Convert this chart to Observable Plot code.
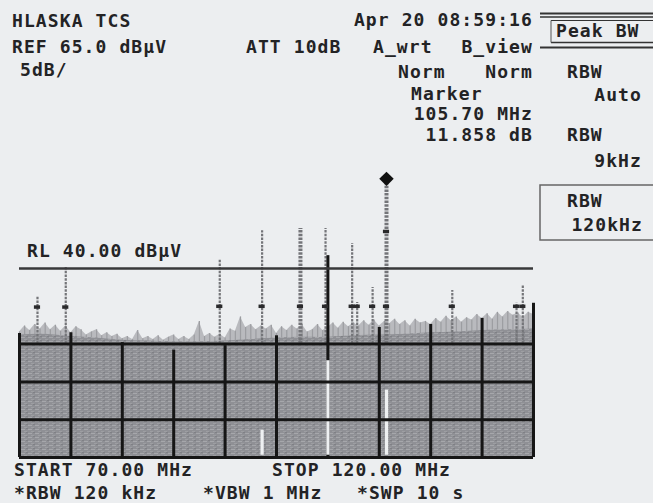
<!DOCTYPE html>
<html>
<head>
<meta charset="utf-8">
<script src="https://cdn.jsdelivr.net/npm/d3@7"></script>
<script src="https://cdn.jsdelivr.net/npm/@observablehq/plot@0.6"></script>
<style>
  html, body { margin: 0; padding: 0; background: #eceef0; }
  #wrap { position: relative; width: 653px; height: 503px; overflow: hidden; background: #eceef0; }
  #wrap svg { position: absolute; left: 0; top: 0; }
</style>
</head>
<body>
<div id="wrap"></div>
<script>
// ---- data (frequency in MHz, level in dBµV) ----
const startMHz = 70, stopMHz = 120;
const refLevel = 65, bottomLevel = 15;
const rlLevel = 40;
// noise "grass" top, sampled every 0.5 MHz from 70 to 120
const grassDb = [
  31.6, 32.4, 31.8, 32.6, 32.0, 32.8, 31.9, 32.5, 31.7, 32.4,
  31.5, 32.3, 31.9, 31.2, 31.6, 31.9, 31.1, 31.5, 31.0, 31.3,
  30.7, 31.0, 30.6, 31.8, 30.7, 31.0, 30.6, 31.1, 30.5, 30.9,
  31.2, 30.6, 31.0, 30.6, 31.2, 33.0, 31.0, 31.4, 30.9, 31.3,
  30.8, 32.0, 31.7, 33.6, 32.2, 32.6, 31.9, 32.4, 32.0, 32.5,
  31.4, 32.3, 31.8, 32.5, 32.0, 32.6, 31.6, 31.9, 32.6, 31.8,
  32.2, 32.8, 32.1, 32.9, 32.3, 32.8, 32.4, 33.1, 32.5, 33.2,
  32.4, 33.0, 32.7, 33.3, 32.6, 33.1, 32.4, 33.3, 32.8, 33.0,
  32.6, 33.4, 32.9, 33.7, 33.1, 33.6, 32.9, 33.5, 33.2, 33.9,
  33.4, 34.0, 33.3, 34.2, 33.6, 34.3, 33.8, 34.1, 33.5, 34.2,
  33.9
];
// dense noise floor, sampled every 2.5 MHz
const floorDb = [31.2, 31.3, 31.0, 30.8, 30.5, 30.4, 30.3, 30.3, 30.4, 30.6,
                 30.8, 30.9, 30.9, 31.1, 31.2, 31.3, 31.5, 31.6, 31.8, 31.9, 32.0];
// trace A spikes
const spikeFreq = [71.75, 74.5, 89.48, 93.6, 97.33, 99.77, 102.36, 102.85, 104.35, 105.7, 112.1, 118.35, 118.96];
const spikeDb   = [36.2, 40.2, 41.1, 45.0, 45.3, 45.3, 43.3, 35.5, 37.5, 51.858, 37.1, 35.4, 37.8];
// trace B peak dashes
const traceBFreq = [71.75, 74.5, 89.48, 93.6, 97.33, 99.77, 102.36, 102.85, 104.35, 105.7, 105.7, 112.1, 118.35, 118.96];
const traceBDb   = [34.9, 34.9, 35.0, 35.0, 35.0, 35.0, 35.0, 35.0, 35.0, 35.0, 44.9, 35.0, 35.0, 35.0];
// graticule columns and their visible tops
const gridFreq  = [70, 75, 80, 85, 90, 95, 100, 105, 110, 115, 120];
const gridTopDb = [31.4, 31.5, 30.2, 29.2, 29.8, 31.1, 41.7, 32.2, 32.6, 33.4, 35.4];
const gridLevels = [15, 20, 25, 30];
// white streaks inside the filled trace
const gapFreq  = [93.6, 100, 105.7];
const gapTopDb = [18.6, 27.8, 23.9];
// marker
const markerFreq = 105.7, markerDb = 51.858;

// ---- tables ----
const grassFreq = d3.range(grassDb.length).map(i => startMHz + i * 0.5);
const grass = grassDb.map((v, i) => ({f: grassFreq[i], v}));
const floor = floorDb.map((v, i) => ({f: startMHz + i * 2.5, v}));
const spikes = spikeFreq.map((f, i) => ({f, v: spikeDb[i]}));
const traceB = traceBFreq.map((f, i) => ({f, v: traceBDb[i]}));
const grid = gridFreq.map((f, i) => ({f, top: gridTopDb[i]}));
const gaps = gapFreq.map((f, i) => ({f, top: gapTopDb[i]}));
const wide = new Set([97.33, 105.7]);

const ink = "#161616";
const chart = Plot.plot({
  width: 653, height: 503,
  marginLeft: 19, marginRight: 120, marginTop: 79, marginBottom: 46,
  x: {domain: [startMHz, stopMHz], axis: null},
  y: {domain: [bottomLevel, refLevel], axis: null},
  style: {background: "transparent", overflow: "visible"},
  marks: [
    Plot.areaY(grass, {x: "f", y1: bottomLevel, y2: "v", fill: "#b9babe"}),
    Plot.ruleX(grass, {x: "f", y1: 29.5, y2: "v", stroke: "#9c9da1", strokeWidth: 1.2}),
    Plot.areaY(floor, {x: "f", y1: bottomLevel, y2: "v", fill: "url(#scanfill)", curve: "natural"}),
    Plot.ruleX(spikes, {x: "f", y1: 30, y2: "v", stroke: "#747579",
      strokeWidth: d => wide.has(d.f) ? 4 : 2.2, strokeDasharray: "2.5,1.2"}),
    Plot.ruleX(grid, {x: "f", y1: bottomLevel, y2: "top", stroke: ink, strokeWidth: 3}),
    Plot.ruleX(gaps, {x: "f", y1: bottomLevel + 0.3, y2: "top", stroke: "#eef0f2", strokeWidth: 3.2}),
    Plot.ruleY(gridLevels, {y: d => d, stroke: ink, strokeWidth: 3}),
    Plot.ruleY([rlLevel], {y: d => d, stroke: "#38383a", strokeWidth: 2.5}),
    Plot.ruleY(traceB, {y: "v", x1: d => d.f - 0.3, x2: d => d.f + 0.3, stroke: "#2a2a2c", strokeWidth: 3.5}),
    Plot.dot([{f: markerFreq, v: markerDb}], {x: "f", y: "v", symbol: "diamond2", r: 6.5, fill: "#111", stroke: "none"})
  ]
});
// scanned-paper texture for the filled trace
d3.select(chart).insert("defs", ":first-child").html(
  `<pattern id="scanfill" width="7" height="4" patternUnits="userSpaceOnUse">
     <rect width="7" height="4" fill="#8f9095"/>
     <rect x="0" y="1" width="4" height="1" fill="#a6a7ab"/>
     <rect x="3" y="3" width="3" height="1" fill="#9d9ea2"/>
     <rect x="5" y="0" width="2" height="1" fill="#7f8085"/>
   </pattern>`);
document.getElementById("wrap").appendChild(chart);

// ---- instrument annotations ----
const texts = [
  {t: "HLASKA TCS", x: 12, y: 27},
  {t: "REF 65.0 dBµV", x: 12, y: 53},
  {t: "5dB/", x: 20, y: 76},
  {t: "ATT 10dB", x: 246, y: 53},
  {t: "A_wrt", x: 373, y: 53},
  {t: "B_view", x: 533, y: 53, a: "end"},
  {t: "Apr 20 08:59:16", x: 533, y: 26, a: "end"},
  {t: "Norm", x: 398, y: 78},
  {t: "Norm", x: 533, y: 78, a: "end"},
  {t: "Marker", x: 411, y: 100},
  {t: "105.70 MHz", x: 533, y: 120, a: "end"},
  {t: "11.858 dB", x: 533, y: 141, a: "end"},
  {t: "Peak BW", x: 556, y: 37},
  {t: "RBW", x: 567, y: 78},
  {t: "Auto", x: 642, y: 101, a: "end"},
  {t: "RBW", x: 567, y: 141},
  {t: "9kHz", x: 642, y: 167, a: "end"},
  {t: "RBW", x: 567, y: 207},
  {t: "120kHz", x: 643, y: 231, a: "end"},
  {t: "RL 40.00 dBµV", x: 27, y: 257},
  {t: "START 70.00 MHz", x: 14, y: 476},
  {t: "STOP 120.00 MHz", x: 272, y: 476},
  {t: "*RBW 120 kHz", x: 14, y: 499},
  {t: "*VBW 1 MHz", x: 203, y: 499},
  {t: "*SWP 10 s", x: 357, y: 499}
];
const over = d3.select("#wrap").append("svg")
  .attr("width", 653).attr("height", 503);
const lines = [
  {x1: 540, x2: 653, y: 13.5, w: 2.2},
  {x1: 540, x2: 653, y: 17, w: 1.5},
  {x1: 551, x2: 653, y: 20.5, w: 1},
  {x1: 551, x2: 653, y: 42.5, w: 1.5},
  {x1: 540, x2: 653, y: 47.5, w: 2.2}
];
over.selectAll("line.p").data(lines).join("line")
  .attr("x1", d => d.x1).attr("x2", d => d.x2).attr("y1", d => d.y).attr("y2", d => d.y)
  .attr("stroke", "#333").attr("stroke-width", d => d.w);
over.append("line").attr("x1", 551).attr("x2", 551).attr("y1", 20.5).attr("y2", 42.5)
  .attr("stroke", "#555").attr("stroke-width", 1);
over.append("rect").attr("x", 540).attr("y", 185).attr("width", 130).attr("height", 55)
  .attr("fill", "none").attr("stroke", "#666").attr("stroke-width", 1.5);
over.selectAll("text").data(texts).join("text")
  .attr("x", d => d.x).attr("y", d => d.y)
  .attr("text-anchor", d => d.a || "start")
  .attr("font-family", "'DejaVu Sans Mono', monospace")
  .attr("font-size", 18).attr("font-weight", "bold")
  .attr("letter-spacing", 1.1)
  .attr("fill", "#232325")
  .text(d => d.t);
</script>
</body>
</html>
